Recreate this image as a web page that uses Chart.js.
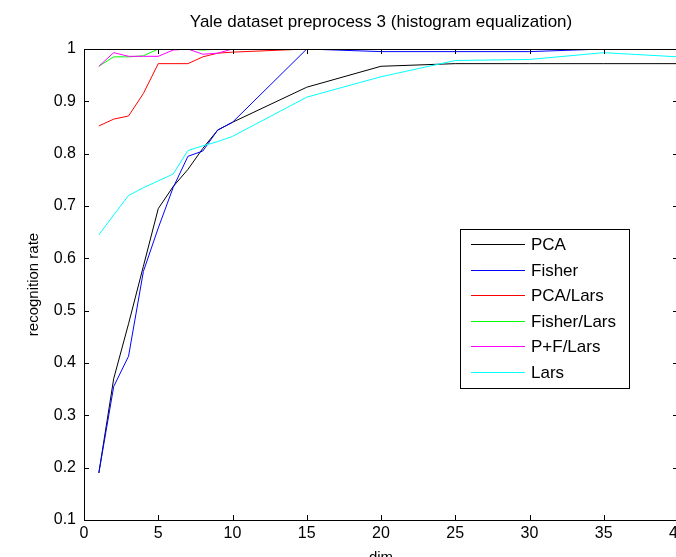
<!DOCTYPE html>
<html>
<head>
<meta charset="utf-8">
<script src="https://cdn.jsdelivr.net/npm/chart.js@4/dist/chart.umd.min.js"></script>
<style>
  html, body { margin: 0; padding: 0; background: #fff; overflow: hidden; }
  #wrap { width: 676px; height: 557px; overflow: hidden; }
</style>
</head>
<body>
<div id="wrap"><canvas id="chart" width="700" height="575"></canvas></div>
<script>
// 数据
const dims = [1, 2, 3, 4, 5, 6, 7, 8, 9, 10, 15, 20, 25, 30, 35, 40];
const pcaRate = [0.19, 0.37, 0.475, 0.585, 0.695, 0.737, 0.77, 0.81, 0.845, 0.86, 0.927, 0.967, 0.972, 0.972, 0.972, 0.972];
const fisherRate = [0.19, 0.355, 0.413, 0.575, 0.658, 0.735, 0.795, 0.805, 0.845, 0.86, 1.0, 0.995, 0.995, 0.995, 1.0, 1.0];
const pcaLarsRate = [0.853, 0.866, 0.872, 0.915, 0.972, 0.972, 0.972, 0.985, 0.992, 0.994, 1, 1, 1, 1, 1, 1];
const fisherLarsRate = [0.967, 0.985, 0.985, 0.987, 1, 1, 1, 0.998, 1, 1, 1, 1, 1, 1, 1, 1];
const pfLarsRate = [0.967, 0.993, 0.986, 0.986, 0.986, 0.998, 1, 0.99, 0.992, 1, 1, 1, 1, 1, 1, 1];
const larsRate = [0.645, 0.683, 0.72, 0.735, 0.748, 0.761, 0.806, 0.815, 0.823, 0.833, 0.908, 0.947, 0.978, 0.98, 0.993, 0.985];

const seriesNames = ['PCA', 'Fisher', 'PCA/Lars', 'Fisher/Lars', 'P+F/Lars', 'Lars'];
const seriesValues = [pcaRate, fisherRate, pcaLarsRate, fisherLarsRate, pfLarsRate, larsRate];
const seriesColors = ['#000000', '#0000ff', '#ff0000', '#00ff00', '#ff00ff', '#00ffff'];

const xTicks = [0, 5, 10, 15, 20, 25, 30, 35, 40];
const yTicks = [0.1, 0.2, 0.3, 0.4, 0.5, 0.6, 0.7, 0.8, 0.9, 1];

const textFont = '"Liberation Sans", Arial, sans-serif';

// 坐标框、向内刻度、图例
const matlabAxes = {
    id: 'matlabAxes',
    afterDraw(chart) {
        const ctx = chart.ctx;
        const a = chart.chartArea;
        const xs = chart.scales.x, ys = chart.scales.y;
        const len = 5;
        ctx.save();
        ctx.strokeStyle = '#000';
        ctx.lineWidth = 1;
        ctx.beginPath();
        ctx.rect(Math.round(a.left) + 0.5, Math.round(a.top) + 0.5, Math.round(a.right - a.left), Math.round(a.bottom - a.top));
        xTicks.forEach(v => {
            const px = Math.round(xs.getPixelForValue(v)) + 0.5;
            ctx.moveTo(px, a.bottom); ctx.lineTo(px, a.bottom - len);
            ctx.moveTo(px, a.top); ctx.lineTo(px, a.top + len);
        });
        yTicks.forEach(v => {
            const py = Math.round(ys.getPixelForValue(v)) + 0.5;
            ctx.moveTo(a.left, py); ctx.lineTo(a.left + len, py);
            ctx.moveTo(a.right, py); ctx.lineTo(a.right - len, py);
        });
        ctx.stroke();

        // 图例
        const bx = 460.5, by = 229.5, bw = 169, bh = 159;
        ctx.fillStyle = '#fff';
        ctx.fillRect(bx, by, bw, bh);
        ctx.strokeRect(bx, by, bw, bh);
        ctx.font = '17px ' + textFont;
        ctx.textBaseline = 'middle';
        ctx.textAlign = 'left';
        seriesNames.forEach((name, i) => {
            const y = Math.round(244 + i * 25.6) + 0.5;
            ctx.strokeStyle = seriesColors[i];
            ctx.beginPath();
            ctx.moveTo(471, y); ctx.lineTo(525, y);
            ctx.stroke();
            ctx.fillStyle = '#000';
            ctx.fillText(name, 531, y + 1);
        });
        ctx.restore();
    }
};

const datasets = seriesNames.map((name, i) => ({
    label: name,
    data: dims.map((d, j) => ({ x: d, y: seriesValues[i][j] })),
    borderColor: seriesColors[i],
    backgroundColor: seriesColors[i],
    borderWidth: 1,
    pointRadius: 0,
    tension: 0,
    fill: false,
    order: seriesNames.length - i
}));

new Chart(document.getElementById('chart'), {
    type: 'line',
    data: { datasets },
    options: {
        responsive: false,
        animation: false,
        layout: { padding: { left: 0, right: 22, top: 0, bottom: 0 } },
        plugins: {
            legend: { display: false },
            tooltip: { enabled: false },
            title: {
                display: true,
                fullSize: false,
                text: 'Yale dataset preprocess 3 (histogram equalization)',
                color: '#000',
                font: { family: textFont, size: 17, weight: 'normal', lineHeight: 1.2 },
                padding: { top: 11.8, bottom: 16.8 }
            }
        },
        scales: {
            x: {
                type: 'linear',
                min: 0,
                max: 40,
                afterFit(scale) { scale.height = 55; },
                afterBuildTicks(scale) { scale.ticks = xTicks.map(v => ({ value: v })); },
                grid: { display: false, drawTicks: false },
                border: { display: true, color: '#000' },
                ticks: {
                    color: '#000',
                    padding: 4,
                    maxRotation: 0,
                    font: { family: textFont, size: 16 }
                },
                title: {
                    display: true,
                    text: 'dim',
                    color: '#000',
                    padding: { top: 0, bottom: 8 },
                    font: { family: textFont, size: 15 }
                }
            },
            y: {
                type: 'linear',
                min: 0.1,
                max: 1,
                afterFit(scale) { scale.width = 84; },
                afterBuildTicks(scale) { scale.ticks = yTicks.map(v => ({ value: v })); },
                grid: { display: false, drawTicks: false },
                border: { display: true, color: '#000' },
                ticks: {
                    color: '#000',
                    padding: 8,
                    font: { family: textFont, size: 16 },
                    callback: v => String(Math.round(v * 10) / 10)
                },
                title: {
                    display: true,
                    text: 'recognition rate',
                    color: '#000',
                    padding: { top: 25, bottom: 0 },
                    font: { family: textFont, size: 15 }
                }
            }
        }
    },
    plugins: [matlabAxes]
});
</script>
</body>
</html>
